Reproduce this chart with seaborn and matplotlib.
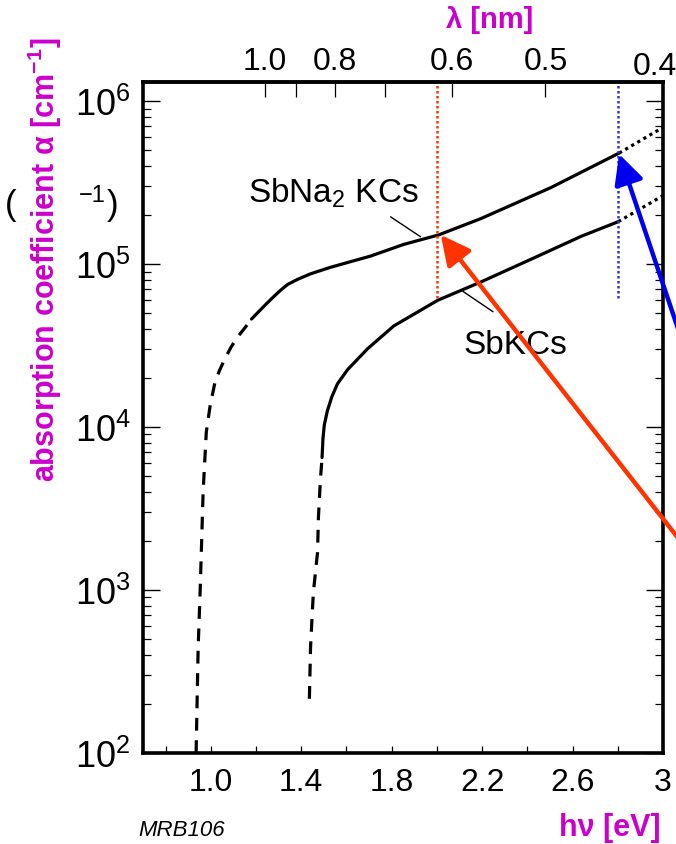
import numpy as np
import pandas as pd
import matplotlib
matplotlib.use("Agg")
import matplotlib.pyplot as plt
import seaborn as sns

# photon energy hv [eV] and absorption coefficient alpha [cm^-1]
na_dash_ev = [0.935, 0.944, 0.953, 0.966, 0.980, 0.997, 1.019, 1.040, 1.064, 1.090, 1.117, 1.150, 1.180]
na_dash_alpha = [100, 440, 1000, 4000, 9300, 13500, 19000, 22500, 26500, 31000, 35500, 40500, 46000]
na_solid_ev = [1.180, 1.240, 1.275, 1.308, 1.340, 1.383, 1.440, 1.529, 1.707, 1.853, 2.008, 2.194, 2.505, 2.806]
na_solid_alpha = [46000, 56000, 62500, 69000, 75000, 80500, 87000, 95500, 112000, 132000, 151000, 190000, 295000, 480000]
na_dot_ev = [2.806, 3.0]
na_dot_alpha = [480000, 690000]

k_dash_ev = [1.436, 1.441, 1.449, 1.454, 1.472, 1.476, 1.485, 1.492]
k_dash_alpha = [215, 440, 740, 980, 1700, 2800, 4800, 6500]
k_solid_ev = [1.492, 1.496, 1.502, 1.515, 1.535, 1.560, 1.605, 1.693, 1.809, 2.004, 2.194, 2.416, 2.638, 2.802]
k_solid_alpha = [6500, 8500, 10300, 12500, 15300, 18400, 22500, 30200, 41700, 60000, 77600, 107000, 148000, 182000]
k_dot_ev = [2.802, 3.0]
k_dot_alpha = [182000, 263000]

# laser lines marked on the plot (eV) and the points the arrows hit
marker_ev = [2.0, 2.8]
marker_colors = ["#FF3300", "#3333DD"]
arrow_tip_ev = [2.017, 2.806]
arrow_tip_alpha = [151000, 473000]
arrow_colors = ["#FF3300", "#0000EE"]

x_major = [1.0, 1.4, 1.8, 2.2, 2.6, 3.0]
x_major_labels = ["1.0", "1.4", "1.8", "2.2", "2.6", "3"]
x_minor = [0.8, 1.2, 1.6, 2.0, 2.4, 2.8]
y_major = [1e2, 1e3, 1e4, 1e5, 1e6]
y_major_labels = [r"$10^{2}$", r"$10^{3}$", r"$10^{4}$", r"$10^{5}$", r"$10^{6}$"]
lam_ticks = [1.0, 0.9, 0.8, 0.7, 0.6, 0.5]
lam_labels = ["1.0", "", "0.8", "", "0.6", "0.5"]

MAGENTA = "#CC00CC"

sns.set_style("ticks")
plt.rcParams["font.family"] = ["Liberation Sans", "DejaVu Sans"]
plt.rcParams["mathtext.fontset"] = "custom"
plt.rcParams["mathtext.rm"] = "Liberation Sans"
plt.rcParams["mathtext.it"] = "Liberation Sans:italic"
plt.rcParams["mathtext.bf"] = "Liberation Sans:bold"
for key in ["text.color", "axes.labelcolor", "xtick.color", "ytick.color"]:
    plt.rcParams[key] = "black"

fig = plt.figure(figsize=(6.76, 8.45), dpi=100)
ax = fig.add_axes([0.2115, 0.1077, 0.7693, 0.7941])
ax.set_yscale("log")


def draw_segment(ev, alpha, style):
    df = pd.DataFrame({"ev": ev, "alpha": alpha})
    sns.lineplot(data=df, x="ev", y="alpha", ax=ax, color="black", lw=2.3,
                 linestyle=style, estimator=None, sort=False)


for ev, alpha, style in [
    (na_dash_ev, na_dash_alpha, (0, (4, 3))),
    (na_solid_ev, na_solid_alpha, "-"),
    (na_dot_ev, na_dot_alpha, (0, (1, 1.2))),
    (k_dash_ev, k_dash_alpha, (0, (4, 3))),
    (k_solid_ev, k_solid_alpha, "-"),
    (k_dot_ev, k_dot_alpha, (0, (1, 1.2))),
]:
    draw_segment(ev, alpha, style)

ax.set_xlim(0.7, 3.0)
ax.set_ylim(1e2, 1.31e6)
ax.set_xlabel("")
ax.set_ylabel("")

# dotted marker lines from the top frame down past the lower curve
for ev, c in zip(marker_ev, marker_colors):
    ax.vlines(ev, 62000, 1.31e6, colors=c, linestyles=(0, (1, 1)), lw=1.8)

# curve labels with leader lines
ax.text(1.166, 2.75e5, r"SbNa$_2$ KCs", fontsize=24, va="center", ha="left")
ax.plot([1.795, 1.928], [1.95e5, 1.47e5], color="black", lw=1)
ax.text(2.119, 3.2e4, "SbKCs", fontsize=24, va="center", ha="left")
ax.plot([2.115, 2.248], [6.8e4, 5.1e4], color="black", lw=1)

# arrows coming in from beyond the right edge
for tx, ta, c, tail in zip(arrow_tip_ev, arrow_tip_alpha, arrow_colors, [(700, 278), (700, 450)]):
    ax.annotate("", xy=(tx, ta), xycoords="data", xytext=tail, textcoords="figure pixels",
                annotation_clip=False,
                arrowprops=dict(arrowstyle="-|>,head_length=0.6,head_width=0.3",
                                mutation_scale=30, color=c, lw=3.2,
                                shrinkA=0, shrinkB=0))

# ticks
ax.set_xticks(x_major, labels=x_major_labels)
ax.set_xticks(x_minor, minor=True)
ax.set_yticks(y_major, labels=y_major_labels)
ax.yaxis.set_minor_locator(matplotlib.ticker.LogLocator(base=10, subs=np.arange(2, 10)))
ax.yaxis.set_minor_formatter(matplotlib.ticker.NullFormatter())
ax.tick_params(axis="x", which="both", direction="in", length=5, width=0.9,
               labelsize=23, pad=10, top=False, bottom=True)
ax.tick_params(axis="y", which="major", direction="in", length=12, width=1.0,
               labelsize=26, pad=9, left=True, right=True)
ax.tick_params(axis="y", which="minor", direction="in", length=6, width=0.9,
               left=True, right=True)
for s in ax.spines.values():
    s.set_linewidth(2.6)
    s.set_color("black")


def ev_to_um(e):
    e = np.asarray(e, dtype=float)
    with np.errstate(divide="ignore"):
        return 1.24 / e


sec = ax.secondary_xaxis("top", functions=(ev_to_um, ev_to_um))
sec.set_xticks(lam_ticks, labels=lam_labels)
sec.tick_params(direction="in", length=11, width=0.9, labelsize=23, pad=4)
sec.spines["top"].set_linewidth(2.6)
fig.text(655 / 676, 1 - 67 / 845, "0.4", fontsize=23, ha="center", va="center")

# axis titles (magenta, bold) and scan leftovers
fig.text(45 / 676, 1 - 260 / 845, r"absorption coefficient α [cm$^{\mathbf{-1}}$]",
         rotation=90, color=MAGENTA, fontsize=22, fontweight="bold",
         ha="center", va="center")
fig.text(490 / 676, 1 - 20 / 845, "λ [nm]", color=MAGENTA, fontsize=21,
         fontweight="bold", ha="center", va="center")
fig.text(610 / 676, 1 - 828 / 845, "hν [eV]", color=MAGENTA, fontsize=22,
         fontweight="bold", ha="center", va="center")
fig.text(138 / 676, 1 - 831 / 845, "MRB106", fontsize=16, style="italic",
         ha="left", va="center")
fig.text(11 / 676, 1 - 205 / 845, "(", fontsize=25, ha="center", va="center")
fig.text(92 / 676, 1 - 196 / 845, "−1", fontsize=17, ha="center", va="center")
fig.text(113 / 676, 1 - 205 / 845, ")", fontsize=25, ha="center", va="center")

fig.savefig("out.png", dpi=100)
